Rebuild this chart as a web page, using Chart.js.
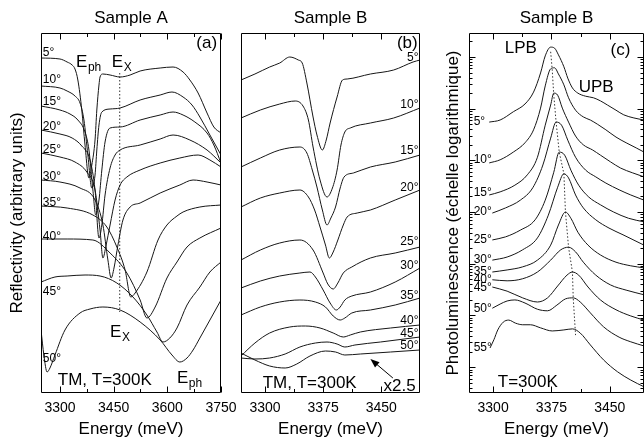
<!DOCTYPE html>
<html><head><meta charset="utf-8">
<script src="https://cdn.jsdelivr.net/npm/chart.js@4.4.1/dist/chart.umd.min.js"></script>
<style>
html,body{margin:0;padding:0;background:#fff;overflow:hidden;width:644px;height:444px;}
canvas{position:absolute;top:0;}
</style></head><body>
<canvas id="ca" width="250" height="444" style="left:0px"></canvas>
<canvas id="cb" width="190" height="444" style="left:240px"></canvas>
<canvas id="cc" width="214" height="444" style="left:430px"></canvas>
<script>
// ---------- Panel (a): Sample A reflectivity, energy (meV) / reflectivity (arb. units)
const aMajor = [3300, 3450, 3600, 3750];
const aMinor = [3375, 3525, 3675];
const aAngles = ['5°','10°','15°','20°','25°','30°','35°','40°','45°','50°'];
const a05E = [3247,3300,3320,3334,3342,3350,3361,3370,3381,3389,3398,3403,3409,3412,3420,3440,3468,3496,3524,3580,3616,3644,3663,3686,3711,3730,3750];
const a05R = [335,334,331,328,324,313,283,248,215,228,253,283,308,316,319,318,316,318,322,325,326,321,313,300,280,266,260];
const a10E = [3247,3300,3320,3342,3356,3367,3378,3389,3398,3403,3409,3417,3440,3468,3524,3580,3613,3644,3669,3691,3719,3750];
const a10R = [307,305,302,297,290,273,238,205,218,243,268,281,284,285,293,298,301,296,288,276,258,238];
const a15E = [3247,3300,3328,3350,3370,3381,3392,3400,3409,3417,3426,3440,3468,3524,3580,3616,3644,3677,3711,3730,3750];
const a15R = [287,283,279,273,261,243,203,178,193,223,251,265,266,273,278,281,278,271,260,248,230];
const a20E = [3247,3300,3334,3361,3384,3398,3409,3417,3426,3440,3454,3468,3524,3580,3616,3663,3711,3730,3750];
const a20R = [263,259,255,247,233,203,155,168,198,225,238,243,248,254,258,253,243,237,230];
const a25E = [3247,3300,3342,3375,3398,3412,3420,3429,3440,3454,3468,3487,3524,3580,3635,3686,3719,3750];
const a25R = [240,236,231,221,203,163,135,148,168,193,208,216,223,230,235,238,233,226];
const a30E = [3247,3300,3356,3398,3420,3434,3443,3451,3462,3476,3496,3524,3580,3635,3672,3711,3750];
const a30R = [213,211,205,193,168,133,115,125,148,173,186,190,200,208,213,211,208];
const a35E = [3247,3320,3392,3431,3459,3482,3498,3510,3543,3574,3599,3627,3644,3691,3750];
const a35R = [187,185,178,166,146,123,96,100,121,153,168,177,181,186,188];
const a40E = [3247,3320,3392,3440,3487,3524,3543,3566,3599,3627,3655,3691,3750];
const a40R = [154,154,153,140,120,93,75,86,115,131,146,155,165];
const a45E = [3247,3286,3320,3370,3412,3459,3504,3543,3571,3588,3607,3627,3655,3691,3719,3750];
const a45R = [111,116,117,118,117,110,96,78,61,51,55,65,88,106,121,131];
const a50E = [3247,3255,3264,3272,3286,3314,3356,3384,3420,3468,3524,3580,3613,3635,3655,3672,3691,3719,3750];
const a50R = [63,38,21,25,38,63,80,84,86,83,71,53,38,31,35,43,55,73,93];
const aExE = [3467, 3467];
const aExR = [320, 81];

// ---------- Panel (b): Sample B reflectivity
const bMajor = [3300, 3375, 3450];
const bMinor = [3337.5, 3412.5];
const bAngles = ['5°','10°','15°','20°','25°','30°','35°','40°','45°','50°'];
const b05E = [3269,3287,3306,3319,3332,3343,3348,3354,3362,3367,3374,3379,3384,3393,3400,3406,3436,3466,3491,3500];
const b05R = [313,319,326,330,336,333,330,310,276,258,243,253,270,296,313,314,319,323,331,333];
const b10E = [3269,3294,3319,3339,3349,3356,3362,3371,3380,3387,3393,3398,3403,3410,3436,3466,3500];
const b10R = [275,283,289,292,287,273,246,213,196,205,223,248,261,265,270,275,285];
const b15E = [3269,3294,3319,3345,3354,3361,3367,3374,3380,3385,3391,3397,3402,3414,3436,3468,3500];
const b15R = [226,235,243,246,240,223,206,183,168,175,186,205,216,220,226,231,238];
const b20E = [3269,3294,3319,3345,3356,3364,3371,3378,3383,3388,3394,3401,3406,3419,3436,3468,3500];
const b20R = [186,195,200,203,196,183,166,148,135,141,153,168,176,180,183,193,203];
const b25E = [3269,3294,3319,3345,3362,3375,3381,3388,3394,3401,3412,3436,3468,3500];
const b25R = [133,143,150,153,143,120,109,104,110,120,126,135,140,146];
const b30E = [3269,3294,3319,3345,3358,3365,3375,3384,3392,3397,3403,3412,3436,3468,3500];
const b30R = [105,112,117,120,121,116,103,90,83,86,93,97,101,111,125];
const b35E = [3269,3294,3319,3345,3365,3378,3388,3397,3403,3412,3436,3468,3500];
const b35R = [78,86,91,93,91,86,77,73,75,80,83,88,95];
const b40E = [3269,3287,3306,3332,3352,3371,3388,3401,3410,3423,3462,3500];
const b40R = [37,50,60,66,67,65,60,56,58,61,65,68];
const b45E = [3269,3287,3306,3326,3345,3365,3380,3393,3403,3416,3449,3500];
const b45R = [35,34,35,39,46,50,51,49,46,48,51,56];
const b50E = [3269,3287,3306,3326,3341,3358,3378,3391,3403,3423,3462,3500];
const b50R = [40,33,27,25,29,37,42,41,38,39,41,43];

// ---------- Panel (c): Sample B photoluminescence, log10 of intensity
const cMajor = [3300, 3375, 3450];
const cMinor = [3337.5, 3412.5];
const cAngles = ['5°','10°','15°','20°','25°','30°','35°','40°','45°','50°','55°'];
const c05E = [3295,3309,3326,3341,3352,3361,3367,3374,3379,3384,3391,3396,3402,3409,3419,3429,3438,3447,3458,3468,3481,3494];
const c05L = [5.74,5.78,5.94,6.09,6.32,6.69,7.02,7.19,7.17,7.04,6.81,6.59,6.40,6.30,6.24,6.21,6.15,6.07,5.97,5.88,5.82,5.78];
const c10E = [3295,3309,3326,3341,3352,3361,3367,3374,3379,3384,3391,3397,3406,3416,3425,3434,3445,3458,3471,3484,3494];
const c10L = [4.95,5.01,5.16,5.34,5.59,6.01,6.44,6.77,6.79,6.67,6.46,6.21,5.97,5.84,5.78,5.70,5.59,5.45,5.34,5.24,5.16];
const c15E = [3295,3309,3328,3344,3357,3367,3374,3378,3383,3389,3397,3406,3416,3428,3438,3451,3464,3479,3494];
const c15L = [4.33,4.39,4.52,4.72,5.06,5.68,6.07,6.30,6.26,6.01,5.74,5.47,5.30,5.20,5.10,4.97,4.85,4.76,4.68];
const c20E = [3299,3316,3335,3351,3364,3374,3381,3388,3396,3406,3419,3432,3445,3462,3477,3494];
const c20L = [3.98,4.08,4.23,4.47,4.91,5.43,5.74,5.68,5.39,5.06,4.81,4.68,4.56,4.43,4.33,4.23];
const c25E = [3299,3316,3335,3354,3367,3378,3385,3392,3400,3410,3423,3438,3455,3474,3494];
const c25L = [3.46,3.52,3.65,3.85,4.23,4.77,5.16,5.10,4.81,4.52,4.29,4.14,4.00,3.88,3.81];
const c30E = [3299,3318,3338,3357,3371,3383,3391,3397,3406,3416,3432,3449,3467,3494];
const c30L = [3.07,3.13,3.27,3.50,3.94,4.48,4.74,4.66,4.33,4.08,3.85,3.69,3.56,3.36];
const c35E = [3299,3318,3338,3357,3374,3384,3393,3400,3409,3422,3438,3458,3477,3494];
const c35L = [2.84,2.88,2.94,3.07,3.36,3.75,4.00,3.88,3.61,3.36,3.17,3.03,2.96,2.92];
const c40E = [3299,3318,3338,3357,3374,3387,3397,3406,3416,3432,3451,3471,3494];
const c40L = [2.69,2.67,2.71,2.84,3.07,3.27,3.32,3.23,3.03,2.78,2.59,2.49,2.40];
const c45E = [3299,3318,3338,3357,3370,3383,3395,3402,3410,3422,3438,3458,3477,3494];
const c45L = [2.55,2.47,2.34,2.26,2.34,2.57,2.78,2.84,2.78,2.55,2.30,2.11,1.99,1.91];
const c50E = [3299,3309,3318,3328,3341,3357,3370,3382,3393,3403,3412,3425,3442,3462,3477,3494];
const c50L = [2.14,2.22,2.28,2.30,2.24,2.12,2.09,2.20,2.32,2.34,2.26,2.05,1.78,1.58,1.49,1.41];
const c55E = [3296,3301,3306,3313,3320,3329,3338,3348,3361,3376,3391,3402,3412,3425,3442,3460,3477,3494];
const c55L = [1.37,1.53,1.72,1.87,1.91,1.85,1.82,1.82,1.76,1.70,1.72,1.74,1.66,1.43,1.14,0.91,0.75,0.62];
const cPeakE = [3374,3376,3378,3381,3385,3391,3393,3397,3402,3403,3406];
const cPeakL = [7.10,6.75,6.26,5.74,5.16,4.74,4.00,3.32,2.84,2.34,1.62];

// ---------- shared drawing helpers
const FONT = '"Liberation Sans", Arial, Helvetica, sans-serif';
Chart.defaults.font.family = FONT;
Chart.defaults.color = '#000';

function curves(list, tf) {
  return list.map(([E, V]) => ({
    data: E.map((x, i) => ({x, y: tf ? tf(V[i]) : V[i]})),
    borderColor: '#161616', borderWidth: 1, pointRadius: 0,
    cubicInterpolationMode: 'monotone', fill: false
  }));
}
function dotted(E, V, tf) {
  return {
    data: E.map((x, i) => ({x, y: tf ? tf(V[i]) : V[i]})),
    borderColor: '#333', borderWidth: 1, borderDash: [1.5, 2], pointRadius: 0, tension: 0, fill: false
  };
}

function decor(p) {
  return {
    id: 'decor',
    afterDatasetsDraw(chart) {
      const {ctx, chartArea: ca, scales: {x, y}} = chart;
      ctx.save();
      ctx.strokeStyle = '#000'; ctx.fillStyle = '#000'; ctx.lineWidth = 1;
      const L = Math.round(ca.left) + 0.5, R = Math.round(ca.right) - 0.5;
      const T = Math.round(ca.top) + 0.5, B = Math.round(ca.bottom) - 0.5;
      ctx.beginPath(); ctx.rect(L, T, R - L, B - T); ctx.stroke();
      ctx.beginPath();
      const xt = (v, len) => {
        const px = Math.round(x.getPixelForValue(v)) + 0.5;
        ctx.moveTo(px, T); ctx.lineTo(px, T + len);
        ctx.moveTo(px, B); ctx.lineTo(px, B - len);
      };
      p.major.forEach(v => xt(v, 6));
      p.minor.forEach(v => xt(v, 3.5));
      if (p.log) {
        for (let k = 0; k <= 8; k++) for (let m = 1; m <= 9; m++) {
          const val = m * Math.pow(10, k);
          if (val < y.min || val > y.max) continue;
          const py = Math.round(y.getPixelForValue(val)) + 0.5;
          const len = m === 1 ? 6 : 3;
          ctx.moveTo(L, py); ctx.lineTo(L + len, py);
          ctx.moveTo(R, py); ctx.lineTo(R - len, py);
        }
      }
      ctx.stroke();
      const Y = v => y.getPixelForValue(p.ytf ? p.ytf(v) : v);
      (p.texts || []).forEach(t => {
        ctx.font = (t.size || 17) + 'px ' + FONT;
        ctx.textAlign = t.align || 'left';
        ctx.textBaseline = t.base || 'alphabetic';
        const px = x.getPixelForValue(t.x), py = Y(t.y);
        ctx.fillText(t.s, px, py);
        if (t.sub) {
          const w = ctx.measureText(t.s).width;
          ctx.font = '12px ' + FONT;
          ctx.fillText(t.sub, px + w + 0.5, py + 4);
        }
      });
      if (p.arrow) {
        const [e1, v1, e2, v2] = p.arrow;
        const x1 = x.getPixelForValue(e1), y1 = Y(v1), x2 = x.getPixelForValue(e2), y2 = Y(v2);
        const ang = Math.atan2(y2 - y1, x2 - x1);
        ctx.beginPath(); ctx.moveTo(x1, y1); ctx.lineTo(x2 - 6 * Math.cos(ang), y2 - 6 * Math.sin(ang)); ctx.stroke();
        ctx.beginPath();
        ctx.moveTo(x2, y2);
        ctx.lineTo(x2 - 9 * Math.cos(ang) + 3.5 * Math.sin(ang), y2 - 9 * Math.sin(ang) - 3.5 * Math.cos(ang));
        ctx.lineTo(x2 - 9 * Math.cos(ang) - 3.5 * Math.sin(ang), y2 - 9 * Math.sin(ang) + 3.5 * Math.cos(ang));
        ctx.closePath(); ctx.fill();
      }
      ctx.restore();
    }
  };
}

function xScale(min, max, major) {
  return {
    type: 'linear', position: 'bottom', min, max,
    grid: {display: false, drawTicks: false}, border: {display: false},
    afterBuildTicks: s => { s.ticks = major.map(v => ({value: v})); },
    afterFit: s => { s.height = 51; },
    ticks: {font: {size: 14}, color: '#000', padding: 7, maxRotation: 0, autoSkip: false, callback: v => String(v)},
    title: {display: true, text: 'Energy (meV)', font: {size: 17}, color: '#000', padding: {top: 0, bottom: 4}}
  };
}
function baseOpts(title, scales, pad) {
  return {
    responsive: false, animation: false, events: [],
    layout: {padding: pad},
    plugins: {
      legend: {display: false}, tooltip: {enabled: false},
      title: {display: true, text: title, fullSize: false, font: {size: 17, weight: 'normal'}, color: '#000', padding: {top: 8, bottom: 4.6}}
    },
    scales
  };
}

// ---------- Panel (a)
const aSeries = [[a05E,a05R],[a10E,a10R],[a15E,a15R],[a20E,a20R],[a25E,a25R],[a30E,a30R],[a35E,a35R],[a40E,a40R],[a45E,a45R],[a50E,a50R]];
const aLabelY = [340,313,291,266,243,216,190,156,101,34];
new Chart(document.getElementById('ca'), {
  type: 'line',
  data: {datasets: [...curves(aSeries), dotted(aExE, aExR)]},
  options: baseOpts('Sample A', {
    x: xScale(3247, 3750, aMajor),
    y: {type: 'linear', min: 0, max: 360, grid: {display: false}, border: {display: false},
        ticks: {display: false}, afterFit: s => { s.width = 41; },
        title: {display: true, text: 'Reflectivity (arbitrary units)', font: {size: 17}, color: '#000', padding: {top: 7, bottom: 0}}}
  }, {left: 0, right: 29, top: 0, bottom: 0}),
  plugins: [decor({
    major: aMajor, minor: aMinor,
    texts: [
      ...aAngles.map((s, i) => ({s, x: 3252, y: aLabelY[i], size: 12, base: 'middle'})),
      {s: 'E', sub: 'ph', x: 3345, y: 326},
      {s: 'E', sub: 'X', x: 3445, y: 326},
      {s: 'E', sub: 'X', x: 3440, y: 56},
      {s: 'E', sub: 'ph', x: 3627, y: 10},
      {s: 'TM, T=300K', x: 3294, y: 8},
      {s: '(a)', x: 3739, y: 345, align: 'right'}
    ]
  })]
});

// ---------- Panel (b)
const bSeries = [[b05E,b05R],[b10E,b10R],[b15E,b15R],[b20E,b20R],[b25E,b25R],[b30E,b30R],[b35E,b35R],[b40E,b40R],[b45E,b45R],[b50E,b50R]];
const bLabelY = [335,288,242,205,151,127,97,72,59,47];
new Chart(document.getElementById('cb'), {
  type: 'line',
  data: {datasets: curves(bSeries)},
  options: baseOpts('Sample B', {
    x: xScale(3269, 3500, bMajor),
    y: {type: 'linear', min: 0, max: 360, display: false}
  }, {left: 1, right: 10, top: 0, bottom: 0}),
  plugins: [decor({
    major: bMajor, minor: bMinor,
    texts: [
      ...bAngles.map((s, i) => ({s, x: 3498, y: bLabelY[i], size: 12, base: 'middle', align: 'right'})),
      {s: '(b)', x: 3497, y: 345, align: 'right'},
      {s: 'TM, T=300K', x: 3297, y: 5},
      {s: 'x2.5', x: 3453, y: 2}
    ],
    arrow: [3465, 15, 3436, 34]
  })]
});

// ---------- Panel (c)
const cSeries = [[c05E,c05L],[c10E,c10L],[c15E,c15L],[c20E,c20L],[c25E,c25L],[c30E,c30L],[c35E,c35L],[c40E,c40L],[c45E,c45L],[c50E,c50L],[c55E,c55L]];
const cLabelL = [5.74,5.01,4.37,4.00,3.46,3.07,2.84,2.69,2.53,2.14,1.37];
const pow10 = v => Math.pow(10, v);
new Chart(document.getElementById('cc'), {
  type: 'line',
  data: {datasets: [...curves(cSeries, pow10), dotted(cPeakE, cPeakL, pow10)]},
  options: baseOpts('Sample B', {
    x: xScale(3269, 3494, cMajor),
    y: {type: 'logarithmic', min: pow10(0.5), max: pow10(7.463), grid: {display: false}, border: {display: false},
        ticks: {display: false}, afterFit: s => { s.width = 39; },
        title: {display: true, text: 'Photoluminescence (échelle logarithmique)', font: {size: 17}, color: '#000', padding: {top: 13, bottom: 0}}}
  }, {left: 0, right: 0, top: 0, bottom: 0}),
  plugins: [decor({
    major: cMajor, minor: cMinor, log: true, ytf: pow10,
    texts: [
      ...cAngles.map((s, i) => ({s, x: 3275, y: cLabelL[i], size: 12, base: 'middle'})),
      {s: 'LPB', x: 3315, y: 7.08},
      {s: 'UPB', x: 3410, y: 6.32},
      {s: '(c)', x: 3451, y: 7.04},
      {s: 'T=300K', x: 3306, y: 0.62}
    ]
  })]
});
</script>
</body></html>
